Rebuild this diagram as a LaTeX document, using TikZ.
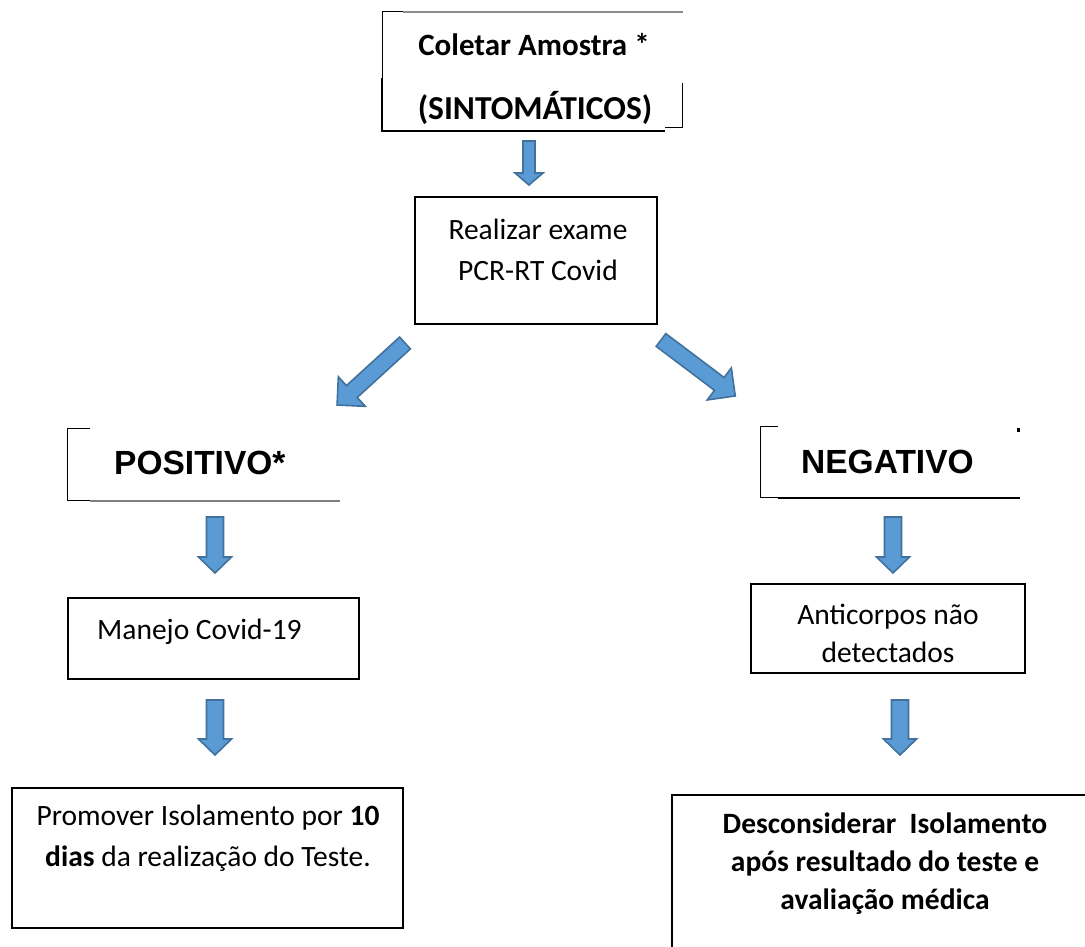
\documentclass[tikz,border=0pt]{standalone}
\usepackage{fontspec}
\setmainfont{Carlito}
\newfontfamily\arialf{Liberation Sans}
\definecolor{arrfill}{HTML}{5B9BD5}
\definecolor{arrline}{HTML}{41719C}
\newcommand\barrow[7]{% name, start, angle, length, shaft half, head half, head length
  \coordinate (#1) at #2;
  \filldraw[blockarr, shift={(#1)}, rotate=#3]
    (0,-#5) -- ({#4-#7},-#5) -- ({#4-#7},-#6) -- (#4,0) -- ({#4-#7},#6) -- ({#4-#7},#5) -- (0,#5) -- cycle;}
\begin{document}
\begin{tikzpicture}[x=1pt,y=-1pt,
  blockarr/.style={fill=arrfill, draw=arrline, line width=1.6pt, line join=miter},
  frame/.style={draw=black, line width=1.2pt},
  txt/.style={inner sep=0pt, align=center, font=\fontsize{29.5}{41}\selectfont},
  btxt/.style={inner sep=0pt, align=center, font=\bfseries\fontsize{31}{40}\selectfont},
  bigtxt/.style={inner sep=0pt, align=center, font=\arialf\bfseries\fontsize{33.5}{40}\selectfont}]
\useasboundingbox[fill=white] (0,0) rectangle (1085,947);

% ---- top box (partial frame)
\node[btxt] (coletar) at (534,45) {Coletar Amostra *};
\node[btxt, font=\bfseries\fontsize{33.5}{40}\selectfont] (sinto) at (535,108) {(SINTOMÁTICOS)};
\draw[frame, line width=1pt] (382,78) -- (382,12) -- (403,12);
\draw[draw=black!45, line width=2pt] (403,12) -- (683,12);
\draw[frame, line width=2pt] (382,78) -- (382,131) -- (665,131);
\draw[frame, line width=1pt] (665,128) -- (682,128) -- (682,83);

% ---- Realizar exame box
\node[txt] (realizar) at (538,250) {Realizar exame\\PCR-RT Covid};
\draw[frame] (415,197) rectangle (657,324);
\draw[frame, line width=2.2pt] (415,197) -- (657,197);

% ---- POSITIVO frame
\node[bigtxt, anchor=west] (pos) at (114,463) {POSITIVO*};
\draw[frame, line width=1pt] (90,428) -- (67,428) -- (67,500) -- (90,500);
\draw[draw=black!50, line width=2.4pt] (90,501) -- (340,501);

% ---- NEGATIVO frame
\node[bigtxt, anchor=west] (neg) at (801,462) {NEGATIVO};
\draw[frame, line width=1pt] (778,426) -- (760,426) -- (760,497) -- (778,497);
\draw[draw=black, line width=2.4pt] (778,498) -- (1020,498);
\fill (1017,428) rectangle (1020,432);

% ---- Manejo box
\draw[frame] (68,598) rectangle (359,679);
\node[txt, anchor=west] (manejo) at (97,632) {Manejo Covid-19};

% ---- Anticorpos box
\draw[frame] (751,584) rectangle (1025,673);
\node[txt, font=\fontsize{29.5}{38}\selectfont] (antic) at (888,633) {Anticorpos não\\detectados};

% ---- Promover box
\draw[frame] (12,788) rectangle (403,928);
\node[txt] (promover) at (208,838) {Promover Isolamento por \textbf{10}\\\textbf{dias} da realização do Teste.};

% ---- Desconsiderar box (cut by page edge)
\draw[frame] (672,947) -- (672,795) -- (1085,795);
\node[txt, font=\bfseries\fontsize{29.5}{38}\selectfont] (descons) at (885,864) {Desconsiderar\ \ Isolamento\\após resultado do teste e\\avaliação médica};

% ---- block arrows
\barrow{a1}{(529,141)}{-90}{44}{6}{14}{12}
\barrow{a2}{(405,343)}{222.4}{92}{8}{20}{20}
\barrow{a3}{(661,340)}{-37}{93}{8}{20}{20}
\barrow{a4}{(215,517)}{-90}{56}{8.5}{16.5}{16}
\barrow{a5}{(893,517)}{-90}{56}{8.5}{16.5}{16}
\barrow{a6}{(215,700)}{-90}{55}{8.5}{16.5}{16}
\barrow{a7}{(900,700)}{-90}{55}{8.5}{16.5}{16}
\end{tikzpicture}
\end{document}
